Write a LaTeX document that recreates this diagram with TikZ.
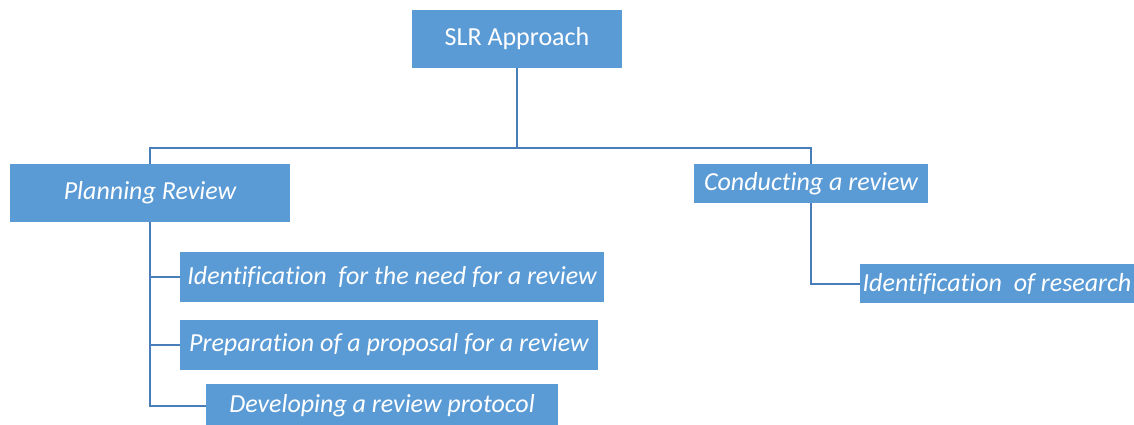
\documentclass[tikz,border=0pt]{standalone}
\usepackage{fontspec}
\setmainfont[Ligatures=NoCommon]{Carlito}
\definecolor{boxfill}{HTML}{5B9BD5}
\definecolor{linec}{HTML}{4A7EBB}
\begin{document}
\begin{tikzpicture}[x=1pt,y=-1pt,
  box/.style={fill=boxfill,draw=none,text=white,inner sep=0pt,font=\fontsize{26}{30}\selectfont\itshape},
  conn/.style={draw=linec,line width=2pt}]
\useasboundingbox (0,0) rectangle (1134,425);
\node[box,font=\fontsize{26}{30}\selectfont,minimum width=210pt,minimum height=58pt] (slr) at (517,39) {SLR Approach};
\node[box,minimum width=280pt,minimum height=58pt] (plan) at (150,193) {Planning Review};
\node[box,minimum width=234pt,minimum height=39pt] (cond) at (811,183.5) {Conducting a review};
\node[box,minimum width=424pt,minimum height=50pt] (b1) at (392,277) {Identification \ for the need for a review};
\node[box,minimum width=418pt,minimum height=50pt] (b2) at (389,345) {Preparation of a proposal for a review};
\node[box,minimum width=352pt,minimum height=44pt] (b3) at (382,406) {Developing a review protocol};
\node[box,minimum width=274pt,minimum height=39pt] (r1) at (997,283.5) {Identification \ of research};
\coordinate (j) at (517,148);
\draw[conn] (slr.south) -- (j);
\draw[conn] (j) -| (plan.north);
\draw[conn] (j) -| (cond.north);
\draw[conn] (plan.south) |- (b1.west);
\draw[conn] (plan.south) |- (b2.west);
\draw[conn] (plan.south) |- (b3.west);
\draw[conn] (cond.south) |- (r1.west);
\end{tikzpicture}
\end{document}
